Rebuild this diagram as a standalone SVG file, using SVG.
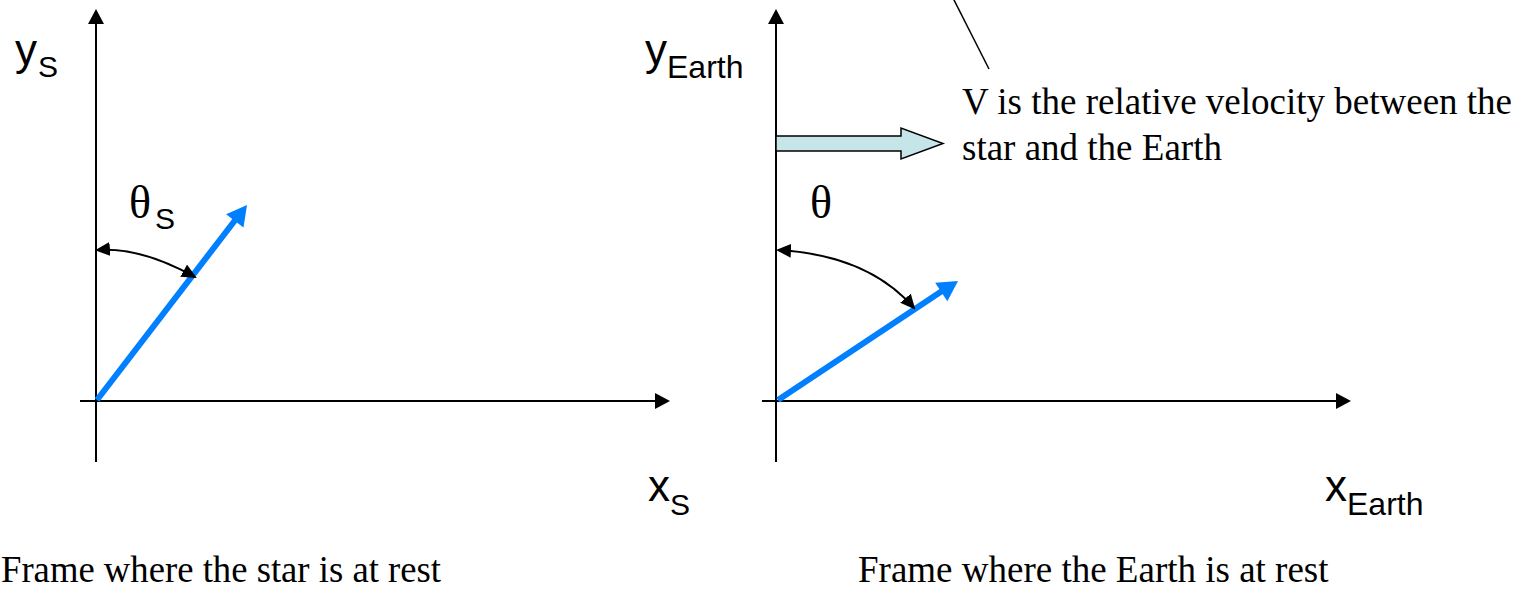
<svg xmlns="http://www.w3.org/2000/svg" width="1528" height="590" viewBox="0 0 1528 590">
<style>
.ax{stroke:#000;stroke-width:2;fill:none}
.arc{stroke:#000;stroke-width:2;fill:none}
.vec{stroke:#0080FF;stroke-width:6;fill:none}
.vh{fill:#0080FF}
.lbl{font-family:"Liberation Sans",Arial,sans-serif;fill:#000}
.big{font-size:44px}
.sub{font-size:30px}
.sube{font-size:32px}
.th{font-family:"Liberation Serif","Times New Roman",serif;font-size:46px;fill:#000}
.txt{font-family:"Liberation Serif","Times New Roman",serif;font-size:37px;fill:#000}
</style>
<defs>
<marker id="axh" markerUnits="userSpaceOnUse" viewBox="0 0 15 16" markerWidth="15" markerHeight="16" refX="7" refY="8" orient="auto"><path d="M0,0 L15,8 L0,16 z" fill="#000"/></marker>
<marker id="arh" markerUnits="userSpaceOnUse" viewBox="0 0 15 14" markerWidth="15" markerHeight="14" refX="13" refY="7" orient="auto-start-reverse"><path d="M0,0 L15,7 L0,14 z" fill="#000"/></marker>
</defs>
<rect width="1528" height="590" fill="#fff"/>
<g id="frame-star">
<line class="ax" x1="96" y1="462" x2="96" y2="17" marker-end="url(#axh)"/>
<line class="ax" x1="80" y1="401" x2="662" y2="401" marker-end="url(#axh)"/>
<line class="vec" x1="97" y1="400" x2="236" y2="219"/>
<polygon class="vh" points="247,205 243.5,227.6 226.1,214.2"/>
<path class="arc" d="M97,250 Q140,246.5 195,277" marker-start="url(#arh)" marker-end="url(#arh)"/>
<text class="lbl big" x="15" y="65">y<tspan class="sub" dx="1" y="77">S</tspan></text>
<text class="th" x="129" y="218">θ<tspan class="lbl sub" x="155" y="229">S</tspan></text>
<text class="lbl big" x="648" y="501">x<tspan class="sub" dx="0" y="515">S</tspan></text>
<text class="txt" x="1" y="582" textLength="440" lengthAdjust="spacingAndGlyphs">Frame where the star is at rest</text>
</g>
<g id="frame-earth">
<line class="ax" x1="776" y1="462" x2="776" y2="17" marker-end="url(#axh)"/>
<line class="ax" x1="762" y1="401" x2="1343" y2="401" marker-end="url(#axh)"/>
<line class="vec" x1="778" y1="400" x2="942" y2="291"/>
<polygon class="vh" points="958,281 947.4,301.2 935.2,282.8"/>
<path class="arc" d="M778,250 Q868,255 914,308" marker-start="url(#arh)" marker-end="url(#arh)"/>
<text class="lbl big" x="645" y="65">y<tspan class="sube" dx="0" y="78">Earth</tspan></text>
<text class="th" x="810" y="218">θ</text>
<text class="lbl big" x="1325" y="501">x<tspan class="sube" dx="0" y="515">Earth</tspan></text>
<text class="txt" x="858" y="582">Frame where the Earth is at rest</text>
</g>
<g id="velocity">
<polygon points="776,136 901,136 901,128 943,143.5 901,159 901,151 776,151" fill="#C5E5E8" stroke="#000" stroke-width="1.5"/>
<line x1="953" y1="-2" x2="989" y2="69" stroke="#000" stroke-width="1.5"/>
<text class="txt" x="962" y="114">V is the relative velocity between the</text>
<text class="txt" x="962" y="160">star and the Earth</text>
</g>
</svg>
